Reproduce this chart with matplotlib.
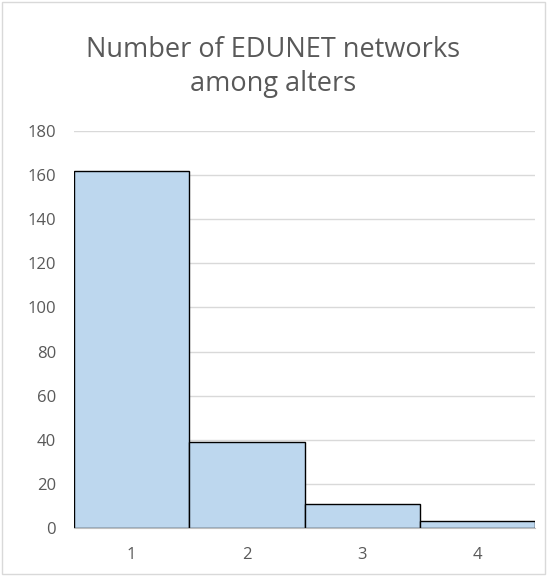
import matplotlib.pyplot as plt
from matplotlib.patches import Rectangle

# Data
categories = ['1', '2', '3', '4']
counts = [162, 39, 11, 3]
yticks = [0, 20, 40, 60, 80, 100, 120, 140, 160, 180]

plt.rcParams['font.family'] = ['Open Sans', 'DejaVu Sans']

fig = plt.figure(figsize=(5.47, 5.76), dpi=100)
ax = fig.add_axes([0.1353, 0.0833, 0.843, 0.6892])

# Outer chart border
fig.patches.append(Rectangle((0.003, 0.003), 0.994, 0.994, transform=fig.transFigure,
                             fill=False, edgecolor='#d9d9d9', linewidth=1))

x = range(len(categories))
ax.bar(x, counts, width=1.0, color='#bdd7ee', edgecolor='black', linewidth=1, zorder=3)

ax.set_xlim(-0.5, len(categories) - 0.5)
ax.set_ylim(0, 180)
ax.set_yticks(yticks)
ax.set_xticks(list(x))
ax.set_xticklabels(categories)

ax.grid(axis='y', color='#d9d9d9', linewidth=1, zorder=0)
for s in ['top', 'right', 'left']:
    ax.spines[s].set_visible(False)
ax.spines['bottom'].set_color('#bfbfbf')
ax.spines['bottom'].set_zorder(4)
ax.tick_params(axis='both', length=0, labelsize=12, colors='#595959')
ax.tick_params(axis='y', pad=13)
ax.tick_params(axis='x', pad=14)

fig.text(0.5, 0.884, 'Number of EDUNET networks\namong alters', ha='center', va='center',
         fontsize=19.5, color='#595959', linespacing=1.28)

fig.savefig('out.png', dpi=100)
